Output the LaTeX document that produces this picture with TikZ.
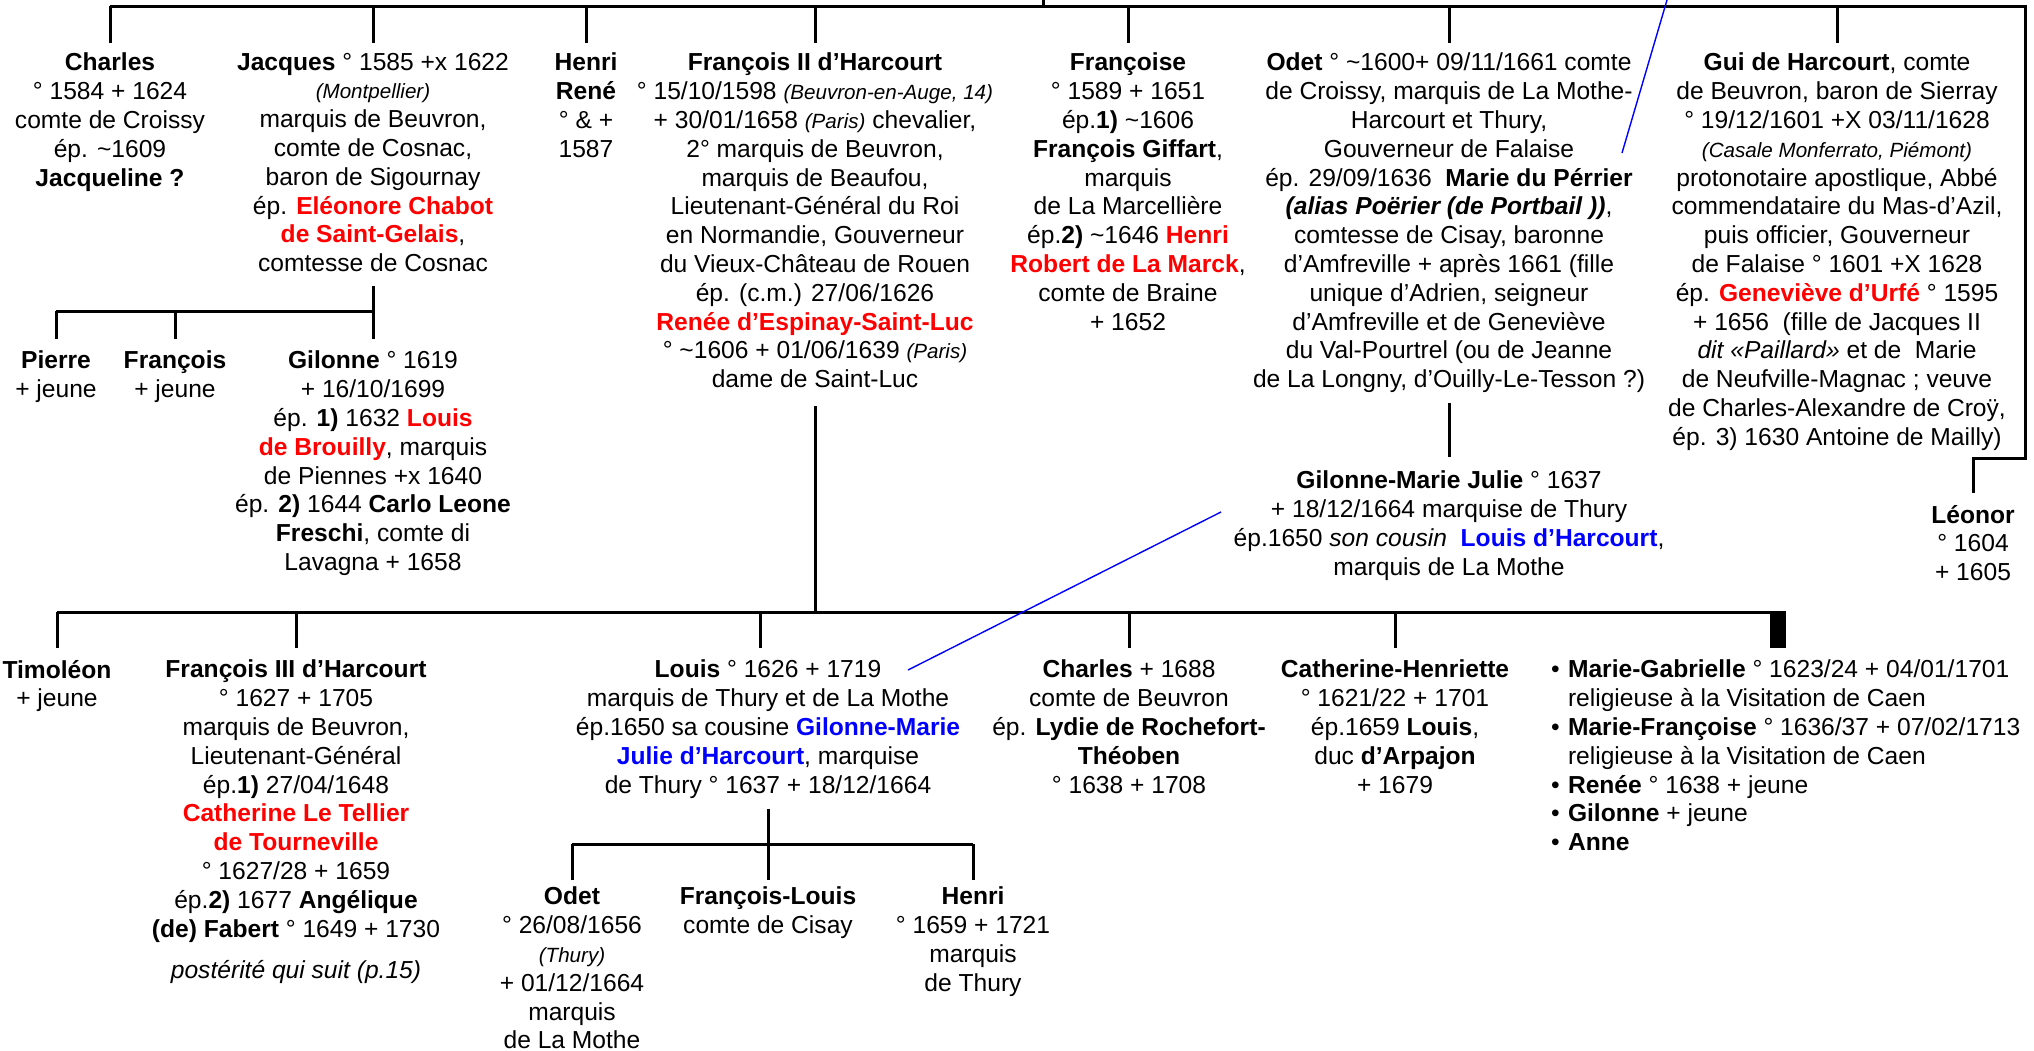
\documentclass[tikz,border=0pt]{standalone}
\usepackage{fontspec}
\setmainfont{Liberation Sans}
\usepackage{xcolor}
\usepackage{tikz}
\definecolor{nomrouge}{RGB}{255,0,0}
\definecolor{nombleu}{RGB}{0,0,255}
\newcommand{\rouge}[1]{\textcolor{nomrouge}{\textbf{#1}}}
\newcommand{\bleu}[1]{\textcolor{nombleu}{\textbf{#1}}}
\newcommand{\lieu}[1]{{\fontsize{10.3}{14.4}\selectfont\itshape #1}}
\newcommand{\apx}{\textasciitilde}
\newcommand{\puce}{\makebox[8.5pt][l]{\textbullet}}
\newcommand{\retrait}{\hspace*{8.5pt}}

\begin{document}
\begin{tikzpicture}[x=0.5pt, y=-0.5pt,
  pers/.style={align=center, inner sep=0pt, outer sep=0pt, anchor=north, font=\fontsize{12.3}{14.4}\selectfont, execute at begin node=\strut},
  lien/.style={line width=1.5pt},
  renvoi/.style={nombleu, line width=0.7pt},
]
  \useasboundingbox (0,0) rectangle (2034,1050);

  \node[pers] (charles)   at (110,53)  {\textbf{Charles}\\° 1584 + 1624\\comte de Croissy\\ép. \apx1609\\\textbf{Jacqueline ?}};
  \node[pers] (jacques)   at (373,53)  {\textbf{Jacques} ° 1585 +x 1622\\\lieu{(Montpellier)}\\marquis de Beuvron,\\comte de Cosnac,\\baron de Sigournay\\ép. \rouge{Eléonore Chabot}\\\rouge{de Saint-Gelais},\\comtesse de Cosnac};
  \node[pers] (henri)     at (586,53)  {\textbf{Henri}\\\textbf{René}\\° \& +\\1587};
  \node[pers] (francois)  at (815,53)  {\textbf{François II d’Harcourt}\\° 15/10/1598 \lieu{(Beuvron-en-Auge, 14)}\\+ 30/01/1658 \lieu{(Paris)} chevalier,\\2° marquis de Beuvron,\\marquis de Beaufou,\\Lieutenant-Général du Roi\\en Normandie, Gouverneur\\du Vieux-Château de Rouen\\ép. (c.m.) 27/06/1626\\\rouge{Renée d’Espinay-Saint-Luc}\\° \apx1606 + 01/06/1639 \lieu{(Paris)}\\dame de Saint-Luc};
  \node[pers] (francoise) at (1128,53) {\textbf{Françoise}\\° 1589 + 1651\\ép.\textbf{1)} \apx1606\\\textbf{François Giffart},\\marquis\\de La Marcellière\\ép.\textbf{2)} \apx1646 \rouge{Henri}\\\rouge{Robert de La Marck},\\comte de Braine\\+ 1652};
  \node[pers] (odet)      at (1449,53) {\textbf{Odet} ° \apx1600+ 09/11/1661 comte\\de Croissy, marquis de La Mothe-\\Harcourt et Thury,\\Gouverneur de Falaise\\ép. 29/09/1636\ \ \textbf{Marie du Pérrier}\\\textbf{\textit{(alias Poërier (de Portbail ))}},\\comtesse de Cisay, baronne\\d’Amfreville + après 1661 (fille\\unique d’Adrien, seigneur\\d’Amfreville et de Geneviève\\du Val-Pourtrel (ou de Jeanne\\de La Longny, d’Ouilly-Le-Tesson ?)};
  \node[pers] (gui)       at (1837,53) {\textbf{Gui de Harcourt}, comte\\de Beuvron, baron de Sierray\\° 19/12/1601 +X 03/11/1628\\\lieu{(Casale Monferrato, Piémont)}\\protonotaire apostlique, Abbé\\commendataire du Mas-d’Azil,\\puis officier, Gouverneur\\de Falaise ° 1601 +X 1628\\ép. \rouge{Geneviève d’Urfé} ° 1595\\+ 1656\ \ (fille de Jacques II\\\textit{dit «Paillard»} et de\ \ Marie\\de Neufville-Magnac ; veuve\\de Charles-Alexandre de Croÿ,\\ép. 3) 1630 Antoine de Mailly)};
  \node[pers] (leonor)    at (1973,505) {\textbf{Léonor}\\° 1604\\+ 1605};

  \node[pers] (pierre)    at (56,351)  {\textbf{Pierre}\\+ jeune};
  \node[pers] (francoisj) at (175,351) {\textbf{François}\\+ jeune};
  \node[pers] (gilonne)   at (373,351) {\textbf{Gilonne} ° 1619\\+ 16/10/1699\\ép. \textbf{1)} 1632 \rouge{Louis}\\\rouge{de Brouilly}, marquis\\de Piennes +x 1640\\ép. \textbf{2)} 1644 \textbf{Carlo Leone}\\\textbf{Freschi}, comte di\\Lavagna + 1658};
  \node[pers] (gilonnem)  at (1449,471) {\textbf{Gilonne-Marie Julie} ° 1637\\+ 18/12/1664 marquise de Thury\\ép.1650 \textit{son cousin}\ \ \bleu{Louis d’Harcourt},\\marquis de La Mothe};

  \node[pers] (timoleon)  at (57,660)  {\textbf{Timoléon}\\+ jeune};
  \node[pers] (francoisiii) at (296,660) {\textbf{François III d’Harcourt}\\° 1627 + 1705\\marquis de Beuvron,\\Lieutenant-Général\\ép.\textbf{1)} 27/04/1648\\\rouge{Catherine Le Tellier}\\\rouge{de Tourneville}\\° 1627/28 + 1659\\ép.\textbf{2)} 1677 \textbf{Angélique}\\\textbf{(de) Fabert} ° 1649 + 1730\\[6.5pt]\textit{postérité qui suit (p.15)}};
  \node[pers] (louis)     at (768,660) {\textbf{Louis} ° 1626 + 1719\\marquis de Thury et de La Mothe\\ép.1650 sa cousine \bleu{Gilonne-Marie}\\\bleu{Julie d’Harcourt}, marquise\\de Thury ° 1637 + 18/12/1664};
  \node[pers] (charlesb)  at (1129,660) {\textbf{Charles} + 1688\\comte de Beuvron\\ép. \textbf{Lydie de Rochefort-}\\\textbf{Théoben}\\° 1638 + 1708};
  \node[pers] (catherine) at (1395,660) {\textbf{Catherine-Henriette}\\° 1621/22 + 1701\\ép.1659 \textbf{Louis},\\duc \textbf{d’Arpajon}\\+ 1679};
  \node[pers, align=left, anchor=north west] (filles) at (1551,660) {\puce\textbf{Marie-Gabrielle} ° 1623/24 + 04/01/1701\\\retrait religieuse à la Visitation de Caen\\\puce\textbf{Marie-Françoise} ° 1636/37 + 07/02/1713\\\retrait religieuse à la Visitation de Caen\\\puce\textbf{Renée} ° 1638 + jeune\\\puce\textbf{Gilonne} + jeune\\\puce\textbf{Anne}};

  \node[pers] (odetb)     at (572,887) {\textbf{Odet}\\° 26/08/1656\\\lieu{(Thury)}\\+ 01/12/1664\\marquis\\de La Mothe};
  \node[pers] (francoislouis) at (768,887) {\textbf{François-Louis}\\comte de Cisay};
  \node[pers] (henrib)    at (973,887) {\textbf{Henri}\\° 1659 + 1721\\marquis\\de Thury};

  \coordinate (pere)   at (1043,0);
  \coordinate (hautG)  at (110,6);
  \coordinate (hautD)  at (2025,6);
  \coordinate (coudeD) at (2025,458);
  \coordinate (busJ)   at (56,311);
  \coordinate (busF)   at (57,612);
  \coordinate (busFD)  at (1786,612);
  \coordinate (busL)   at (572,844);

  \draw[lien] (pere) -- (pere |- hautG);
  \draw[lien] (hautG) -- (hautD) -- (coudeD) -| ([yshift=6pt]leonor.north);
  \foreach \n in {charles,jacques,henri,francois,francoise,odet,gui}
    \draw[lien] (\n.north |- hautG) -- ([yshift=5pt]\n.north);

  \draw[lien] ([yshift=-3pt]jacques.south) -- ([yshift=6pt]gilonne.north);
  \draw[lien] (busJ) -- (gilonne.north |- busJ);
  \foreach \n in {pierre,francoisj}
    \draw[lien] (\n.north |- busJ) -- ([yshift=6pt]\n.north);

  \draw[lien] ([yshift=-3.5pt]odet.south) -- ([yshift=7pt]gilonnem.north);

  \draw[lien] ([yshift=-5pt]francois.south) -- (francois.south |- busF);
  \draw[lien] (busF) -- (busFD);
  \fill ([xshift=-8pt,yshift=0.75pt]busFD) rectangle ++(16,37);
  \foreach \n in {timoleon,francoisiii,charlesb,catherine}
    \draw[lien] (\n.north |- busF) -- ([yshift=6pt]\n.north);
  \draw[lien] ([xshift=-4pt]louis.north |- busF) -- ([xshift=-4pt,yshift=6pt]louis.north);

  \draw[lien] ([yshift=-3.5pt]louis.south) -- ([yshift=3.5pt]francoislouis.north);
  \draw[lien] (busL) -- (henrib.north |- busL);
  \foreach \n in {odetb,henrib}
    \draw[lien] (\n.north |- busL) -- ([yshift=3.5pt]\n.north);

  \coordinate (renvoiA1) at (1667,0);
  \coordinate (renvoiA2) at (1622,153);
  \coordinate (renvoiB1) at (1221,512);
  \coordinate (renvoiB2) at (908,670);
  \draw[renvoi] (renvoiA1) -- (renvoiA2);
  \draw[renvoi] (renvoiB1) -- (renvoiB2);
\end{tikzpicture}
\end{document}
